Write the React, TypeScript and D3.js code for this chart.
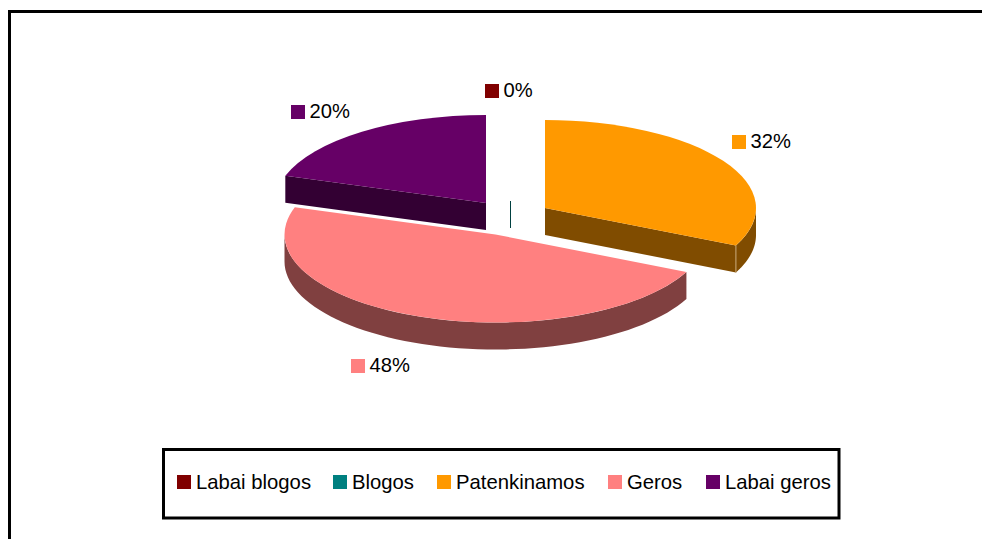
import React from "react";
import * as d3 from "d3";

const categories = ["Labai blogos", "Blogos", "Patenkinamos", "Geros", "Labai geros"];
const values = [0, 0, 32, 48, 20];
const pctLabels = ["0%", null, "32%", "48%", "20%"];

const topColors = ["#800000", "#008080", "#FF9900", "#FF8080", "#660066"];
const sideColors = ["#400000", "#004040", "#804C00", "#804040", "#330033"];

// layout
const W = 982, H = 539;
const RX = 211, RY = 88, DEPTH = 27;
const centers: [number, number][] = [[510.5, 201], [510.5, 201], [545, 208], [495.5, 234.5], [486, 203]];
const labelPos: [number, number][] = [[485, 84], [0, 0], [732, 135], [351, 359], [291, 105]];
const legendSwatchX = [177, 333, 437, 608, 706];
const FONT = "'Liberation Sans', Arial, sans-serif";

const pieGen = d3.pie<number>().sort(null).value((d) => d);
const arcs = pieGen(values);
const arcGen = d3.arc<d3.PieArcDatum<number>>().innerRadius(0).outerRadius(RX);

const px = (c: [number, number], t: number) => [c[0] + RX * Math.sin(t), c[1] - RY * Math.cos(t)] as [number, number];

function wallPath(c: [number, number], a0: number, a1: number) {
  const from = Math.max(a0, Math.PI / 2);
  const to = Math.min(a1, (3 * Math.PI) / 2);
  if (to <= from) return null;
  const angles = d3.range(0, 61).map((i) => from + ((to - from) * i) / 60);
  const upper = angles.map((t) => px(c, t));
  const lower = angles.slice().reverse().map((t) => {
    const p = px(c, t);
    return [p[0], p[1] + DEPTH] as [number, number];
  });
  return d3.line()([...upper, ...lower]) + "Z";
}

function cutPath(c: [number, number], t: number) {
  const p = px(c, t);
  return d3.line()([c, p, [p[0], p[1] + DEPTH], [c[0], c[1] + DEPTH]]) + "Z";
}

// back-to-front: purple, orange, then pink
const drawOrder = [4, 2, 3];

export default function App() {
  return (
    <svg width={W} height={H} style={{ position: "absolute", left: 0, top: 0, display: "block" }} fontFamily={FONT}>
      <rect x={0} y={0} width={W} height={H} fill="#fff" />
      <rect x={9.5} y={11.5} width={W + 20} height={H + 20} fill="#fff" stroke="#000" strokeWidth={3} />

      {drawOrder.map((i) => {
        const a = arcs[i];
        const c = centers[i];
        const wall = wallPath(c, a.startAngle, a.endAngle);
        const isOrange = i === 2;
        const isPurple = i === 4;
        return (
          <g key={i}>
            {isPurple && <path d={cutPath(c, a.startAngle)} fill={sideColors[i]} />}
            {isOrange && <path d={cutPath(c, a.endAngle)} fill={sideColors[i]} />}
            {wall && <path d={wall} fill={sideColors[i]} />}
            {isOrange && (
              <line
                x1={px(c, a.endAngle)[0]}
                x2={px(c, a.endAngle)[0]}
                y1={px(c, a.endAngle)[1]}
                y2={px(c, a.endAngle)[1] + DEPTH}
                stroke="#c9a978"
                strokeWidth={1}
              />
            )}
            <path
              d={arcGen(a) as string}
              transform={`translate(${c[0]},${c[1]}) scale(1,${RY / RX})`}
              fill={topColors[i]}
            />
          </g>
        );
      })}

      {/* zero-value Blogos slice shows only as its side wall */}
      <line x1={centers[1][0]} x2={centers[1][0]} y1={centers[1][1]} y2={centers[1][1] + DEPTH} stroke={sideColors[1]} strokeWidth={1} />

      {pctLabels.map((l, i) =>
        l ? (
          <g key={i}>
            <rect x={labelPos[i][0]} y={labelPos[i][1]} width={14} height={14} fill={topColors[i]} />
            <text x={labelPos[i][0] + 18.5} y={labelPos[i][1] + 13} fontSize={20.2} fill="#000">{l}</text>
          </g>
        ) : null
      )}

      <rect x={163.5} y={449.5} width={675.5} height={68.5} fill="#fff" stroke="#000" strokeWidth={3} />
      {categories.map((c, i) => (
        <g key={c}>
          <rect x={legendSwatchX[i]} y={475} width={14} height={14} fill={topColors[i]} />
          <text x={legendSwatchX[i] + 19} y={489} fontSize={20.3} fill="#000">{c}</text>
        </g>
      ))}
    </svg>
  );
}
